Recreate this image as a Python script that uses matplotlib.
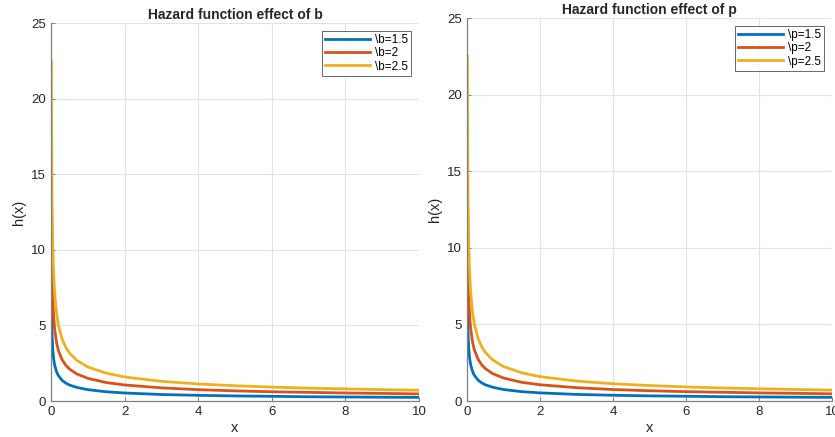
import matplotlib
matplotlib.use("Agg")
import matplotlib.pyplot as plt

plt.rcParams['font.family'] = ['Liberation Sans', 'DejaVu Sans']

x_vals = [0.01, 0.02, 0.03, 0.05, 0.075, 0.1, 0.15, 0.2, 0.3, 0.4, 0.5, 0.7,
          1, 1.5, 2, 3, 4, 5, 6, 7, 8, 9, 10]

b_labels = [r"\b=1.5", r"\b=2", r"\b=2.5"]
h_b15 = [7.5, 5.3, 4.33, 3.35, 2.74, 2.37, 1.94, 1.68, 1.37, 1.19, 1.06, 0.90,
         0.75, 0.61, 0.53, 0.43, 0.375, 0.335, 0.31, 0.28, 0.265, 0.25, 0.24]
h_b2 = [15.0, 10.6, 8.66, 6.7, 5.48, 4.74, 3.87, 3.35, 2.74, 2.37, 2.12, 1.79,
        1.5, 1.22, 1.06, 0.87, 0.75, 0.67, 0.61, 0.57, 0.53, 0.5, 0.47]
h_b25 = [22.5, 15.9, 13.0, 10.06, 8.22, 7.12, 5.81, 5.03, 4.11, 3.56, 3.18, 2.69,
         2.25, 1.84, 1.59, 1.30, 1.125, 1.01, 0.92, 0.85, 0.80, 0.75, 0.71]

p_labels = [r"\p=1.5", r"\p=2", r"\p=2.5"]
h_p15 = [7.5, 5.3, 4.33, 3.35, 2.74, 2.37, 1.94, 1.68, 1.37, 1.19, 1.06, 0.90,
         0.75, 0.61, 0.53, 0.43, 0.375, 0.335, 0.31, 0.28, 0.265, 0.25, 0.24]
h_p2 = [15.0, 10.6, 8.66, 6.7, 5.48, 4.74, 3.87, 3.35, 2.74, 2.37, 2.12, 1.79,
        1.5, 1.22, 1.06, 0.87, 0.75, 0.67, 0.61, 0.57, 0.53, 0.5, 0.47]
h_p25 = [22.5, 15.9, 13.0, 10.06, 8.22, 7.12, 5.81, 5.03, 4.11, 3.56, 3.18, 2.69,
         2.25, 1.84, 1.59, 1.30, 1.125, 1.01, 0.92, 0.85, 0.80, 0.75, 0.71]

colors = ['#0072BD', '#D95319', '#EDB120']

fig = plt.figure(figsize=(8.35, 4.37), dpi=100)
W, H = 835, 437
ax1 = fig.add_axes([51 / W, (H - 401) / H, (419 - 51) / W, (401 - 23) / H])
ax2 = fig.add_axes([467 / W, (H - 401) / H, (832 - 467) / W, (401 - 18) / H])

panels = [
    (ax1, [h_b15, h_b2, h_b25], b_labels, "Hazard function effect of b"),
    (ax2, [h_p15, h_p2, h_p25], p_labels, "Hazard function effect of p"),
]

for ax, series, labels, title in panels:
    for ys, lab, c in zip(series, labels, colors):
        ax.plot(x_vals, ys, color=c, lw=2, label=lab)
    ax.set_xlim(0, 10)
    ax.set_ylim(0, 25)
    ax.set_xticks([0, 2, 4, 6, 8, 10])
    ax.set_yticks([0, 5, 10, 15, 20, 25])
    ax.grid(True, color='#e3e3e3', lw=0.8)
    ax.set_axisbelow(True)
    for s in ['top', 'right']:
        ax.spines[s].set_visible(False)
    for s in ['left', 'bottom']:
        ax.spines[s].set_color('#808080')
        ax.spines[s].set_linewidth(0.9)
    ax.tick_params(colors='#262626', labelsize=9.5, length=3, direction='in',
                   width=0.7)
    ax.tick_params(axis='both', color='#808080')
    ax.set_title(title, fontsize=10, fontweight='bold', color='#262626', pad=3)
    ax.set_xlabel('x', fontsize=10.5, color='#262626', labelpad=2)
    ax.set_ylabel('h(x)', fontsize=10.5, color='#262626', labelpad=4)
    leg = ax.legend(loc='upper right', fontsize=8.5, frameon=True, fancybox=False,
                    handlelength=3.8, handletextpad=0.4, borderpad=0.25,
                    labelspacing=0.1, borderaxespad=0.7)
    leg.get_frame().set_edgecolor('#262626')
    leg.get_frame().set_linewidth(0.6)

fig.savefig('out.png', dpi=100)
